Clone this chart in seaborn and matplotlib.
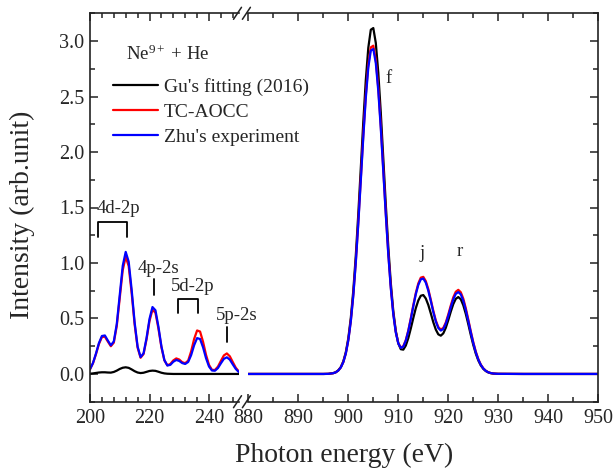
import numpy as np
import pandas as pd
import matplotlib
matplotlib.use("Agg")
import matplotlib.pyplot as plt
import seaborn as sns
from matplotlib.ticker import MultipleLocator
from matplotlib.lines import Line2D

# ---------------- data ----------------
left_energy = list(range(200, 251))
left_gu = [0.002, 0.005, 0.009, 0.013, 0.015, 0.015, 0.013, 0.012, 0.018, 0.030,
           0.045, 0.056, 0.060, 0.055, 0.041, 0.025, 0.013, 0.008, 0.011, 0.019,
           0.027, 0.030, 0.028, 0.020, 0.011, 0.005, 0.002, 0.001, 0.0, 0.0,
           0.0, 0.0, 0.0, 0.0, 0.0, 0.0, 0.0, 0.0, 0.0, 0.0,
           0.0, 0.0, 0.0, 0.0, 0.0, 0.0, 0.0, 0.0, 0.0, 0.0, 0.0]
left_tc = [0.042, 0.096, 0.178, 0.270, 0.332, 0.336, 0.292, 0.250, 0.282, 0.433,
           0.684, 0.935, 1.056, 0.972, 0.729, 0.447, 0.237, 0.146, 0.179, 0.311,
           0.477, 0.580, 0.551, 0.409, 0.241, 0.123, 0.078, 0.090, 0.122, 0.140,
           0.130, 0.106, 0.097, 0.120, 0.204, 0.315, 0.392, 0.382, 0.290, 0.172,
           0.082, 0.037, 0.036, 0.066, 0.118, 0.167, 0.185, 0.159, 0.107, 0.056, 0.023]
left_zhu = [0.043, 0.099, 0.183, 0.278, 0.342, 0.347, 0.301, 0.258, 0.293, 0.450,
            0.712, 0.974, 1.100, 1.012, 0.759, 0.465, 0.247, 0.152, 0.186, 0.323,
            0.496, 0.603, 0.574, 0.426, 0.250, 0.125, 0.076, 0.082, 0.110, 0.126,
            0.117, 0.098, 0.090, 0.108, 0.170, 0.259, 0.323, 0.315, 0.240, 0.142,
            0.067, 0.031, 0.029, 0.053, 0.096, 0.136, 0.150, 0.129, 0.086, 0.045, 0.018]

right_energy = [880, 885, 890, 895, 896] + list(np.arange(897.0, 930.01, 0.5)) + [935, 940, 945, 950]
right_gu = [0.0, 0.0, 0.0, 0.0, 0.001,
            0.008, 0.016, 0.033, 0.062, 0.113, 0.195, 0.321, 0.504, 0.751, 1.067,
            1.443, 1.856, 2.272, 2.648, 2.939, 3.102, 3.117, 2.983, 2.714, 2.354,
            1.941, 1.526, 1.144, 0.820, 0.566, 0.388, 0.275, 0.223, 0.219, 0.256,
            0.323, 0.410, 0.504, 0.593, 0.662, 0.705, 0.711, 0.680, 0.622, 0.546,
            0.466, 0.400, 0.357, 0.345, 0.366, 0.416, 0.486, 0.562, 0.630, 0.677,
            0.693, 0.673, 0.619, 0.541, 0.448, 0.351, 0.261, 0.183, 0.122, 0.077,
            0.046, 0.026, 0.014, 0.007, 0.003, 0.002, 0.001,
            0.0, 0.0, 0.0, 0.0]
right_tc = [0.0, 0.0, 0.0, 0.0, 0.001,
            0.007, 0.015, 0.031, 0.059, 0.107, 0.185, 0.305, 0.478, 0.713, 1.013,
            1.369, 1.761, 2.156, 2.513, 2.789, 2.943, 2.958, 2.830, 2.575, 2.233,
            1.841, 1.449, 1.087, 0.781, 0.543, 0.378, 0.278, 0.238, 0.250, 0.305,
            0.392, 0.502, 0.620, 0.729, 0.816, 0.868, 0.875, 0.837, 0.764, 0.669,
            0.569, 0.482, 0.423, 0.400, 0.415, 0.464, 0.537, 0.618, 0.691, 0.741,
            0.758, 0.736, 0.678, 0.592, 0.490, 0.384, 0.285, 0.201, 0.134, 0.084,
            0.051, 0.029, 0.015, 0.008, 0.004, 0.002, 0.001,
            0.0, 0.0, 0.0, 0.0]
right_zhu = [0.0, 0.0, 0.0, 0.0, 0.001,
             0.007, 0.015, 0.031, 0.058, 0.106, 0.183, 0.302, 0.473, 0.706, 1.003,
             1.355, 1.743, 2.134, 2.487, 2.761, 2.914, 2.928, 2.802, 2.549, 2.211,
             1.823, 1.434, 1.076, 0.773, 0.537, 0.373, 0.275, 0.235, 0.246, 0.300,
             0.386, 0.494, 0.609, 0.718, 0.802, 0.853, 0.860, 0.823, 0.751, 0.657,
             0.558, 0.473, 0.414, 0.391, 0.405, 0.453, 0.523, 0.602, 0.673, 0.722,
             0.738, 0.717, 0.660, 0.576, 0.477, 0.374, 0.278, 0.195, 0.130, 0.082,
             0.049, 0.028, 0.015, 0.008, 0.004, 0.002, 0.001,
             0.0, 0.0, 0.0, 0.0]

series_names = ["Gu's fitting (2016)", "TC-AOCC", "Zhu's experiment"]
series_colors = ["black", "red", "blue"]

left_yticks = [0.0, 0.5, 1.0, 1.5, 2.0, 2.5, 3.0]

# ---------------- style ----------------
sns.set_style("ticks")
plt.rcParams['font.family'] = ['Liberation Serif', 'DejaVu Serif']
plt.rcParams['mathtext.fontset'] = 'custom'
plt.rcParams['mathtext.rm'] = 'Liberation Serif'
plt.rcParams['mathtext.it'] = 'Liberation Serif:italic'

W, H = 616, 472
fig = plt.figure(figsize=(W / 100, H / 100), dpi=100)

def fx(px):
    return px / W

def fy(py):
    return 1 - py / H

ax_bottom, ax_top = 401.7, 13.3
axL = fig.add_axes([fx(90), fy(ax_bottom), fx(238.75 - 90), (ax_bottom - ax_top) / H])
axR = fig.add_axes([fx(248.3), fy(ax_bottom), fx(598.3 - 248.3), (ax_bottom - ax_top) / H])

left_df = pd.DataFrame({"E": left_energy * 3,
                        "I": left_gu + left_tc + left_zhu,
                        "s": [series_names[0]] * len(left_energy) + [series_names[1]] * len(left_energy)
                             + [series_names[2]] * len(left_energy)})
right_df = pd.DataFrame({"E": right_energy * 3,
                         "I": right_gu + right_tc + right_zhu,
                         "s": [series_names[0]] * len(right_energy) + [series_names[1]] * len(right_energy)
                              + [series_names[2]] * len(right_energy)})

pal = dict(zip(series_names, series_colors))
sns.lineplot(data=left_df, x="E", y="I", hue="s", palette=pal, hue_order=series_names,
             linewidth=1.6, ax=axL, sort=False, estimator=None, legend=False)
sns.lineplot(data=right_df, x="E", y="I", hue="s", palette=pal, hue_order=series_names,
             linewidth=1.6, ax=axR, sort=False, estimator=None, legend=False)

for ax in (axL, axR):
    ax.set_ylim(-0.25, 3.25)
    ax.set_facecolor('none')
    ax.set_xlabel("")
    ax.set_ylabel("")
    for sp in ax.spines.values():
        sp.set_linewidth(1.2)
        sp.set_color('#222222')
    ax.yaxis.set_major_locator(MultipleLocator(0.5))
    ax.yaxis.set_minor_locator(MultipleLocator(0.25))
    ax.tick_params(which='both', direction='in', top=True, width=1.1, color='#222222',
                   labelsize=14.5)
    ax.tick_params(which='major', length=6)
    ax.tick_params(which='minor', length=3.5)

axL.set_xlim(200, 250)
axL.set_xticks([200, 220, 240])
axL.xaxis.set_minor_locator(MultipleLocator(4))
axL.spines['right'].set_visible(False)
axL.tick_params(which='both', right=False)
axL.set_yticks(left_yticks)
axL.set_yticklabels([f"{v:.1f}" for v in left_yticks])
axL.tick_params(axis='x', pad=5)
axL.tick_params(axis='y', pad=4)

axR.set_xlim(880, 950)
axR.xaxis.set_major_locator(MultipleLocator(10))
axR.xaxis.set_minor_locator(MultipleLocator(5))
axR.spines['left'].set_visible(False)
axR.tick_params(which='both', left=False, right=True, labelleft=False)
axR.tick_params(axis='x', pad=5)

# break marks
for ytop in (ax_bottom, ax_top):
    for xc in (237.5, 246.4):
        fig.add_artist(Line2D([fx(xc - 4), fx(xc + 4)], [fy(ytop + 6), fy(ytop - 6)],
                              color='#222222', linewidth=1.1))

# annotations (left panel)
fs_ann = 13.5
axL.text(226.0, 2.88, r"Ne$^{9+}$ + He", fontsize=13.5, ha='center', va='center', clip_on=False)
axL.text(209.6, 1.49, "4d-2p", fontsize=fs_ann, ha='center', va='center', clip_on=False)
axL.plot([202.6, 202.6, 212.3, 212.3], [1.234, 1.368, 1.368, 1.234], color='black', lw=1.3)
axL.text(223.0, 0.95, "4p-2s", fontsize=fs_ann, ha='center', va='center')
axL.plot([221.5, 221.5], [0.71, 0.853], color='black', lw=1.3)
axL.text(234.4, 0.79, "5d-2p", fontsize=fs_ann, ha='center', va='center')
axL.plot([229.5, 229.5, 236.4, 236.4], [0.545, 0.677, 0.677, 0.545], color='black', lw=1.3)
axL.text(249.2, 0.53, "5p-2s", fontsize=fs_ann, ha='center', va='center', clip_on=False)
axL.plot([245.9, 245.9], [0.29, 0.425], color='black', lw=1.3)

axR.text(908.0, 2.666, "f", fontsize=fs_ann, ha='center', va='center')
axR.text(914.7, 1.084, "j", fontsize=fs_ann, ha='center', va='center')
axR.text(922.3, 1.099, "r", fontsize=fs_ann, ha='center', va='center')

# legend
handles = [Line2D([0], [0], color=c, lw=1.6) for c in series_colors]
fig.legend(handles, series_names, loc='upper left', bbox_to_anchor=(fx(113), fy(78)),
           frameon=False, fontsize=14, handlelength=2.3, handletextpad=0.3,
           labelspacing=0.38, borderpad=0, borderaxespad=0)

# axis labels
fig.text(fx(344), fy(455), "Photon energy (eV)", fontsize=20, ha='center', va='center')
fig.text(fx(22), fy(214.5), "Intensity (arb.unit)", fontsize=20, ha='center', va='center',
         rotation=90)

fig.savefig("out.png", dpi=100)
